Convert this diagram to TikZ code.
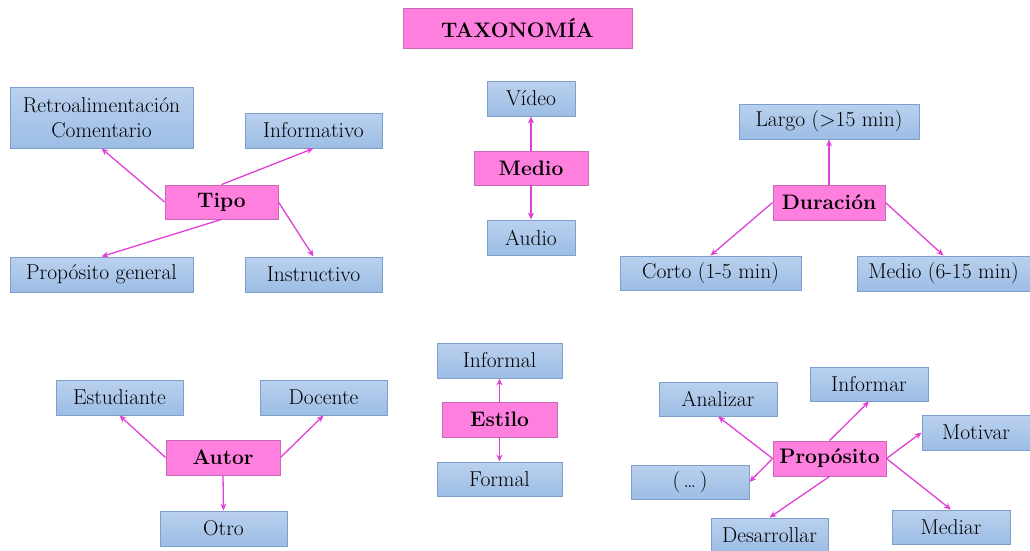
\documentclass[tikz,border=0pt]{standalone}
\usetikzlibrary{arrows.meta}
\definecolor{pinkfill}{HTML}{FF7FDF}
\definecolor{pinkline}{HTML}{C86AB8}
\definecolor{bluetop}{HTML}{BAD1EE}
\definecolor{bluebot}{HTML}{9CBDE5}
\definecolor{blueline}{HTML}{7C9FCB}
\definecolor{arrowcol}{HTML}{E040D8}
\begin{document}
\begin{tikzpicture}[x=1pt,y=-1pt,
  base/.style={rectangle, inner sep=0pt, font=\fontsize{21.5}{25}\selectfont, align=center, line width=0.9pt},
  leaf/.style={base, draw=blueline, top color=bluetop, bottom color=bluebot},
  hub/.style={base, draw=pinkline, fill=pinkfill, font=\fontsize{21}{25}\selectfont\bfseries},
  sz/.style 2 args={minimum width=#1pt, minimum height=#2pt},
  link/.style={draw=arrowcol, line width=1.3pt, -{Stealth[length=7pt,width=6pt]}}
]
\useasboundingbox (0,0) rectangle (1030,551);

% Title
\node[hub, sz={229}{40}] (tax) at (517.5,28) {TAXONOM\'IA};

% Tipo
\node[hub, sz={113}{34}] (tipo) at (221.5,202) {Tipo};
\node[leaf, sz={183}{61}] (retro) at (101.5,117.5) {Retroalimentaci\'on\\Comentario};
\node[leaf, sz={137}{35}] (informativo) at (313.5,130.5) {Informativo};
\node[leaf, sz={183}{35}] (propgen) at (101.5,274.5) {Prop\'osito general};
\node[leaf, sz={137}{35}] (instructivo) at (313.5,274.5) {Instructivo};
\draw[link] (tipo.west) -- (retro.south);
\draw[link] (tipo.north) -- (informativo.south);
\draw[link] (tipo.south) -- (propgen.north);
\draw[link] (tipo.east) -- (instructivo.north);

% Medio
\node[hub, sz={114}{34}] (medio) at (531,168) {Medio};
\node[leaf, sz={88}{35}] (video) at (531,98.5) {V\'ideo};
\node[leaf, sz={88}{35}] (audio) at (531,237.5) {Audio};
\draw[link] (medio.north) -- (video.south);
\draw[link] (medio.south) -- (audio.north);

% Duracion
\node[hub, sz={112}{35}] (duracion) at (829,202.5) {Duraci\'on};
\node[leaf, sz={180}{35}] (largo) at (829,121.5) {Largo (>15 min)};
\node[leaf, sz={181}{34}] (corto) at (710.5,273) {Corto (1-5 min)};
\node[leaf, sz={173}{35}] (mediodur) at (943.5,273.5) {Medio (6-15 min)};
\draw[link] (duracion.north) -- (largo.south);
\draw[link] (duracion.west) -- (corto.north);
\draw[link] (duracion.east) -- (mediodur.north);

% Autor
\node[hub, sz={114}{35}] (autor) at (223,457.5) {Autor};
\node[leaf, sz={127}{35}] (estudiante) at (119.5,397.5) {Estudiante};
\node[leaf, sz={127}{35}] (docente) at (323.5,397.5) {Docente};
\node[leaf, sz={127}{35}] (otro) at (223.5,528.5) {Otro};
\draw[link] (autor.west) -- (estudiante.south);
\draw[link] (autor.east) -- (docente.south);
\draw[link] (autor.south) -- (otro.north);

% Estilo
\node[hub, sz={115}{35}] (estilo) at (499.5,419.5) {Estilo};
\node[leaf, sz={125}{35}] (informal) at (499.5,360.5) {Informal};
\node[leaf, sz={125}{34}] (formal) at (499.5,479) {Formal};
\draw[link] (estilo.north) -- (informal.south);
\draw[link] (estilo.south) -- (formal.north);

% Proposito
\node[hub, sz={113}{35}] (proposito) at (829.5,458.5) {Prop\'osito};
\node[leaf, sz={118}{34}] (analizar) at (718,399) {Analizar};
\node[leaf, sz={118}{34}] (informar) at (869,384) {Informar};
\node[leaf, sz={108}{35}] (motivar) at (976,432.5) {Motivar};
\node[leaf, sz={118}{34}] (etc) at (690,482) {(\,\dots\,)};
\node[leaf, sz={117}{34}] (desarrollar) at (769.5,535) {Desarrollar};
\node[leaf, sz={118}{34}] (mediar) at (951,527) {Mediar};
\draw[link] (proposito.west) -- (analizar.south);
\draw[link] (proposito.north) -- (informar.south);
\draw[link] (proposito.east) -- (motivar.west);
\draw[link] (proposito.west) -- (etc.east);
\draw[link] (proposito.south) -- (desarrollar.north);
\draw[link] (proposito.east) -- (mediar.north);
\end{tikzpicture}
\end{document}
